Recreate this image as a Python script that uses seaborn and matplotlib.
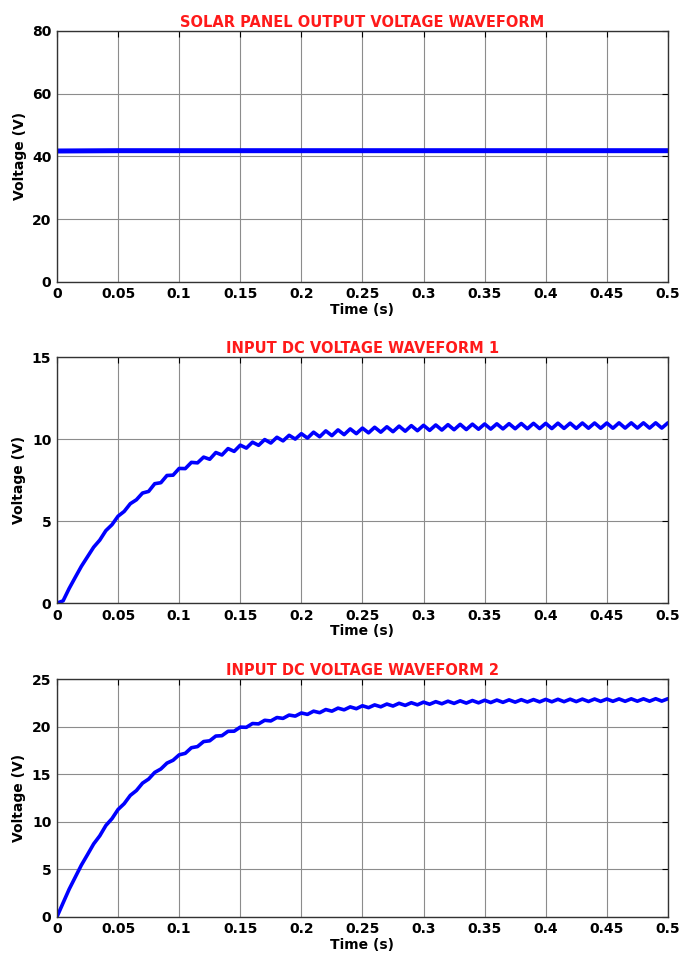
import numpy as np
import pandas as pd
import matplotlib
matplotlib.use("Agg")
import matplotlib.pyplot as plt
import seaborn as sns

# 绘图风格
sns.set_style("white")
plt.rcParams['font.family'] = ['DejaVu Sans']
plt.rcParams['text.color'] = 'black'
plt.rcParams['axes.labelcolor'] = 'black'

# ---- data ----
# solar panel output, sampled every 0.05 s
t_solar = [0.0, 0.05, 0.1, 0.15, 0.2, 0.25, 0.3, 0.35, 0.4, 0.45, 0.5]
v_solar = [41.7, 41.8, 41.8, 41.8, 41.8, 41.8, 41.8, 41.8, 41.8, 41.8, 41.8]

# DC waveforms, sampled every 0.005 s (peaks on even samples, ripple dips on odd)
t_dc = np.linspace(0, 0.5, 101)
v_dc1 = [
    0.00, 0.14, 0.90, 1.58, 2.25, 2.83, 3.41, 3.84, 4.42, 4.78,
    5.30, 5.59, 6.06, 6.30, 6.71, 6.81, 7.28, 7.34, 7.78, 7.80,
    8.21, 8.20, 8.58, 8.55, 8.90, 8.77, 9.18, 9.03, 9.42, 9.25,
    9.63, 9.45, 9.81, 9.62, 9.97, 9.76, 10.11, 9.89, 10.23, 10.00,
    10.33, 10.06, 10.42, 10.14, 10.50, 10.21, 10.56, 10.27, 10.62, 10.33,
    10.67, 10.38, 10.72, 10.42, 10.75, 10.45, 10.79, 10.48, 10.82, 10.51,
    10.84, 10.53, 10.86, 10.55, 10.88, 10.57, 10.90, 10.58, 10.91, 10.60,
    10.92, 10.61, 10.93, 10.62, 10.94, 10.63, 10.95, 10.63, 10.96, 10.64,
    10.96, 10.64, 10.97, 10.65, 10.97, 10.65, 10.98, 10.66, 10.98, 10.66,
    10.98, 10.66, 10.99, 10.67, 10.99, 10.67, 10.99, 10.67, 10.99, 10.67,
    10.99,
]
v_dc2 = [
    0.00, 1.46, 2.91, 4.18, 5.45, 6.55, 7.67, 8.52, 9.61, 10.33,
    11.30, 11.91, 12.78, 13.29, 14.07, 14.50, 15.20, 15.56, 16.18, 16.48,
    17.05, 17.21, 17.80, 17.92, 18.45, 18.53, 19.03, 19.07, 19.53, 19.54,
    19.97, 19.95, 20.35, 20.31, 20.69, 20.62, 20.98, 20.89, 21.24, 21.13,
    21.46, 21.31, 21.65, 21.49, 21.82, 21.65, 21.97, 21.79, 22.10, 21.91,
    22.22, 22.02, 22.31, 22.11, 22.40, 22.19, 22.48, 22.26, 22.54, 22.32,
    22.60, 22.38, 22.65, 22.43, 22.70, 22.47, 22.74, 22.50, 22.77, 22.53,
    22.80, 22.56, 22.82, 22.58, 22.84, 22.60, 22.86, 22.62, 22.87, 22.63,
    22.89, 22.64, 22.90, 22.65, 22.91, 22.66, 22.92, 22.67, 22.93, 22.68,
    22.93, 22.69, 22.94, 22.69, 22.95, 22.70, 22.95, 22.70, 22.96, 22.71,
    22.96,
]

x_ticks = [0, 0.05, 0.1, 0.15, 0.2, 0.25, 0.3, 0.35, 0.4, 0.45, 0.5]
x_tick_labels = ['0', '0.05', '0.1', '0.15', '0.2', '0.25', '0.3', '0.35', '0.4', '0.45', '0.5']

panels = [
    ('SOLAR PANEL OUTPUT VOLTAGE WAVEFORM', t_solar, v_solar, [0, 20, 40, 60, 80], 3.6),
    ('INPUT DC VOLTAGE WAVEFORM 1', t_dc, v_dc1, [0, 5, 10, 15], 2.6),
    ('INPUT DC VOLTAGE WAVEFORM 2', t_dc, v_dc2, [0, 5, 10, 15, 20, 25], 2.6),
]
# axes rectangles in figure fractions
rects = [
    [0.082, 0.708, 0.879, 0.260],
    [0.082, 0.375, 0.879, 0.255],
    [0.082, 0.050, 0.879, 0.246],
]

fig = plt.figure(figsize=(6.95, 9.65), dpi=100)

for (title, t, v, yt, lw), rect in zip(panels, rects):
    ax = fig.add_axes(rect)
    df = pd.DataFrame({'t': t, 'v': v})
    sns.lineplot(data=df, x='t', y='v', ax=ax, color='#0000ff', linewidth=lw,
                 estimator=None, sort=False)
    ax.set_xlim(0, 0.5)
    ax.set_ylim(yt[0], yt[-1])
    ax.set_xticks(x_ticks)
    ax.set_xticklabels(x_tick_labels)
    ax.set_yticks(yt)
    ax.set_yticklabels([str(y) for y in yt])
    ax.grid(True, color='#8c8c8c', linewidth=0.8, linestyle='-')
    ax.set_axisbelow(True)
    ax.tick_params(direction='in', length=4, width=0.8, top=True, right=True,
                   labelsize=10, pad=4, colors='black')
    for lab in ax.get_xticklabels() + ax.get_yticklabels():
        lab.set_fontweight('bold')
    for sp in ax.spines.values():
        sp.set_color('#333333')
        sp.set_linewidth(1.0)
    ax.set_title(title, color='#ff1a1a', fontweight='bold', fontsize=10.5, pad=3)
    ax.set_xlabel('Time (s)', fontweight='bold', fontsize=10, labelpad=1, color='black')
    ax.set_ylabel('Voltage (V)', fontweight='bold', fontsize=10, labelpad=4, color='black')

fig.savefig('out.png', dpi=100)
